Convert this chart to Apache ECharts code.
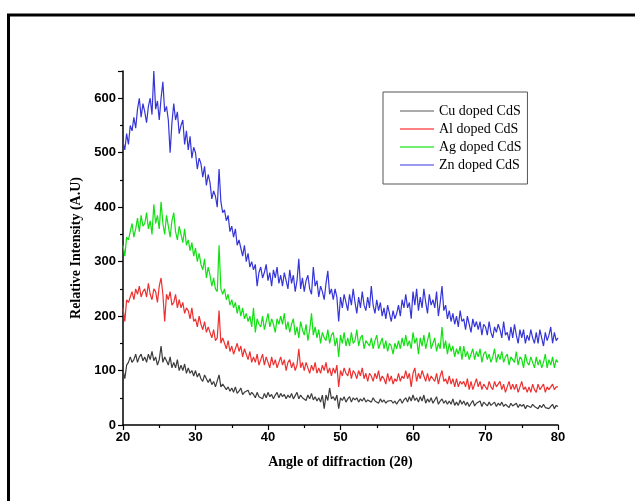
<!DOCTYPE html>
<html><head><meta charset="utf-8">
<script src="https://cdn.jsdelivr.net/npm/echarts@6/dist/echarts.min.js"></script>
<style>html,body{margin:0;padding:0;background:#fff}#c{width:635px;height:501px}</style>
</head><body><div id="c"></div>
<script>
// sampling grid: 2θ from 20 to 80 in steps of 0.25
var angleStart = 20, angleStep = 0.25;
var seriesNames = ['Cu doped CdS', 'Al doped CdS', 'Ag doped CdS', 'Zn doped CdS'];
var xTicks = [20, 30, 40, 50, 60, 70, 80];
var yTicks = [0, 100, 200, 300, 400, 500, 600];

var cu = [
100,85,110,115, 125,115,120,130, 115,125,130,118, 125,115,130,120, 135,118,125,110,
120,145,115,125, 118,110,125,105, 115,105,120,100, 110,100,112,95, 105,95,100,90,
100,88,95,85, 80,92,85,78, 85,74,80,70, 72,92,70,75, 72,65,70,62,
68,60,70,58, 62,68,56,60, 58,64,55,60, 56,50,60,52, 55,48,58,50,
60,52,56,48, 55,60,50,58, 52,56,48,55, 50,58,48,54, 60,48,55,50,
52,45,55,48, 58,46,52,44, 50,42,55,30, 55,45,68,48, 52,45,55,30,
50,45,52,42, 48,52,42,50, 46,50,42,48, 44,50,42,46, 48,42,50,44,
45,40,48,42, 46,40,44,42, 45,40,44,38, 44,48,40,46, 50,42,52,44,
55,45,50,42, 52,44,55,40, 48,42,50,40, 46,52,38,44, 48,40,45,38,
44,38,48,36, 42,36,46,38, 44,36,42,34, 40,45,35,40, 38,44,34,42,
40,35,42,36, 38,42,34,40, 36,42,34,38, 38,32,40,35, 36,40,32,38,
34,38,30,36, 36,32,38,34, 35,30,36,32, 38,32,35,30, 34,38,30,36,
34];
var al = [
215,190,230,225, 235,245,230,250, 240,255,235,245, 250,235,260,240, 230,250,245,225,
255,270,240,190, 240,230,245,220, 225,240,215,230, 215,225,205,215, 210,195,215,190,
195,180,200,185, 175,190,170,180, 170,160,175,155, 160,210,150,160, 150,140,155,135,
145,130,140,150, 135,145,125,140, 130,120,135,115, 125,115,130,110, 120,130,110,125,
115,105,125,110, 120,105,115,125, 110,120,100,115, 120,105,115,100, 110,140,105,115,
100,115,105,95, 110,100,115,95, 105,95,110,100, 115,95,105,90, 105,95,110,70,
100,90,105,95, 90,105,85,100, 95,85,100,90, 105,85,95,80, 95,90,80,95,
85,100,80,90, 85,75,95,80, 90,75,85,80, 95,80,90,85, 100,85,95,70,
95,105,80,95, 85,100,90,80, 95,80,90,85, 80,95,75,90, 100,80,85,75,
90,75,85,70, 85,70,80,75, 80,70,85,65, 80,65,75,85, 70,80,65,75,
75,65,80,70, 65,80,70,75, 80,65,75,60, 70,80,65,75, 65,75,60,70,
80,65,70,60, 70,60,75,65, 60,75,65,70, 75,60,70,65, 62,75,65,70,
70];
var ag = [
330,310,345,340, 355,370,345,360, 380,355,385,365, 370,390,360,375, 350,405,370,385,
360,410,370,350, 385,365,345,375, 390,355,340,365, 350,335,360,330, 340,320,335,310,
325,300,315,295, 285,305,270,290, 275,255,270,250, 245,330,250,240, 250,230,240,220,
230,215,225,205, 220,200,215,195, 205,190,200,180, 215,170,195,185, 180,200,175,190,
205,180,195,185, 170,195,185,200, 185,205,175,190, 170,185,195,165, 180,160,190,175,
165,185,155,175, 205,165,180,160, 175,150,170,160, 155,175,150,165, 170,145,160,125,
165,150,170,145, 160,145,170,150, 155,175,145,160, 165,140,155,150, 145,160,140,155,
165,140,150,160, 140,155,135,150, 145,130,150,140, 155,140,160,145, 165,145,155,140,
170,150,160,130, 160,145,165,140, 155,170,140,150, 160,135,150,140, 180,140,155,130,
150,135,145,125, 140,130,145,120, 145,125,135,120, 130,140,120,135, 125,140,115,130,
135,120,130,115, 125,140,115,130, 120,135,115,125, 130,110,125,120, 115,135,110,125,
120,105,130,115, 110,125,115,105, 125,110,120,105, 115,130,105,120, 110,125,105,120,
115];
var zn = [
520,505,535,515, 550,540,565,545, 580,600,565,590, 575,555,585,600, 570,650,580,595,
560,600,630,575, 585,560,500,555, 590,560,575,535, 550,560,515,540, 505,530,490,510,
500,470,490,480, 455,475,440,460, 445,415,430,420, 400,470,410,390, 395,375,385,355,
365,345,360,330, 340,325,310,330, 300,315,290,300, 285,295,255,280, 290,270,280,295,
265,280,255,285, 270,290,260,275, 255,280,265,250, 285,260,275,245, 265,305,250,270,
245,265,275,250, 240,290,255,265, 235,255,245,230, 260,283,240,250, 230,250,235,190,
235,215,240,225, 210,240,220,250, 225,205,235,215, 245,220,210,235, 215,255,220,205,
230,210,225,200, 215,195,220,205, 190,210,195,205, 220,200,230,215, 240,215,225,195,
245,220,250,210, 235,215,250,225, 205,240,220,230, 215,245,200,225, 255,210,220,195,
210,190,205,185, 200,180,210,190, 195,175,200,185, 170,195,180,190, 175,190,165,185,
180,165,190,170, 160,180,170,185, 175,160,190,165, 170,155,180,160, 185,165,150,175,
160,175,150,165, 155,175,160,150, 170,150,175,160, 145,170,155,165, 180,150,170,155,
160];

var lineColors = ['#3c3c3c', '#ee3030', '#12e012', '#3535d8'];
var legendColors = ['#aaaaaa', '#ff8080', '#70f070', '#9a9af0'];

function pairs(vals) {
  var out = [];
  for (var i = 0; i < vals.length; i++) out.push([angleStart + i * angleStep, vals[i]]);
  return out;
}
var allVals = [cu, al, ag, zn];

var chart = echarts.init(document.getElementById('c'), null, {renderer: 'canvas'});
var tickFont = {fontFamily: 'Liberation Sans', fontWeight: 'bold', fontSize: 13, color: '#000'};
var option = {
  backgroundColor: '#fff',
  animation: false,
  graphic: [
    {type: 'line', shape: {x1: 7, y1: 15, x2: 635, y2: 15}, style: {stroke: '#000', lineWidth: 3}},
    {type: 'line', shape: {x1: 8.5, y1: 14, x2: 8.5, y2: 501}, style: {stroke: '#000', lineWidth: 3}}
  ],
  grid: {left: 123, right: 77, top: 71, bottom: 76, containLabel: false},
  legend: {
    orient: 'vertical', left: 383, top: 92,
    padding: [12, 6, 12, 16],
    itemWidth: 34, itemHeight: 14, itemGap: 4,
    borderColor: '#555', borderWidth: 1,
    textStyle: {fontFamily: 'Liberation Serif', fontSize: 14, color: '#000'},
    data: seriesNames.map(function (n, i) {
      return {name: n, lineStyle: {color: legendColors[i], width: 2}, itemStyle: {color: legendColors[i], opacity: 0, borderWidth: 0}};
    })
  },
  xAxis: {
    type: 'value', min: 20, max: 80, interval: 10,
    name: 'Angle of diffraction (2\u03b8)', nameLocation: 'middle', nameGap: 30,
    nameTextStyle: {fontFamily: 'Liberation Serif', fontWeight: 'bold', fontSize: 14, color: '#000'},
    axisLine: {lineStyle: {color: '#000', width: 1.5}},
    axisTick: {length: 5, lineStyle: {color: '#000', width: 1.2}},
    minorTick: {show: true, splitNumber: 2, length: 3, lineStyle: {color: '#000', width: 1.2}},
    axisLabel: Object.assign({margin: 6, formatter: function (v) { return xTicks.indexOf(v) >= 0 ? String(v) : ''; }}, tickFont),
    splitLine: {show: false}
  },
  yAxis: {
    type: 'value', min: 0, max: 650, interval: 100,
    name: 'Relative Intensity (A.U)', nameLocation: 'middle', nameGap: 26,
    nameTextStyle: {fontFamily: 'Liberation Serif', fontWeight: 'bold', fontSize: 14, color: '#000'},
    axisLine: {show: true, lineStyle: {color: '#000', width: 1.5}},
    axisTick: {show: true, length: 5, lineStyle: {color: '#000', width: 1.2}},
    minorTick: {show: true, splitNumber: 2, length: 3, lineStyle: {color: '#000', width: 1.2}},
    axisLabel: Object.assign({margin: 7, showMaxLabel: false, formatter: function (v) { return yTicks.indexOf(v) >= 0 ? String(v) : ''; }}, tickFont),
    splitLine: {show: false}
  },
  series: seriesNames.map(function (n, i) {
    return {
      name: n, type: 'line', data: pairs(allVals[i]),
      symbol: 'none', smooth: false,
      lineStyle: {color: lineColors[i], width: 1.2},
      itemStyle: {color: lineColors[i]}
    };
  })
};
chart.setOption(option);
</script>
</body></html>
